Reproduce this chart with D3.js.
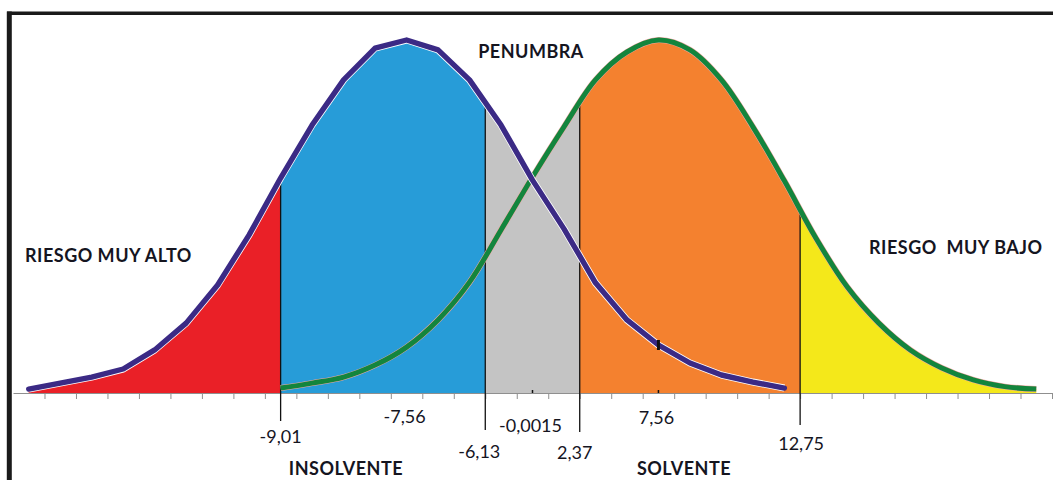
<!DOCTYPE html>
<html>
<head>
<meta charset="utf-8">
<title></title>
<style>
  body { margin: 0; background: #fff; }
  text { font-family: Lato, "Open Sans", sans-serif; fill: #15151f; }
</style>
</head>
<body>
<svg id="chart" width="1053" height="480"></svg>
<script src="https://cdn.jsdelivr.net/npm/d3@7/dist/d3.min.js"></script>
<script>
// curve heights (peak = 100), one value per category
const insolvente = [1.1, 2.8, 4.5, 6.8, 12.2, 19.8, 30.6, 44.8, 60.9, 75.9, 88.7, 97.7, 100,
                    97.2, 88.7, 75.9, 60.3, 46.5, 31.2, 20.7, 13.6, 8.5, 5.1, 3.1, 1.4]
const solvente = [1.4, 2.8, 4.5, 7.9, 13.0, 20.7, 31.4, 46.2, 61.2, 75.4, 88.7, 96.6, 100,
                  97.2, 88.7, 75.4, 60.1, 43.9, 30.0, 19.8, 12.2, 7.1, 3.7, 1.8, 1.1]
const insolventeStart = 0   // first category of each curve
const solventeStart = 8
const nCats = 33

// cut points (category position) and their labels
const cuts = [8, 14.5, 17.5, 24.5]
const cutLabels = ["-9,01", "-6,13", "2,37", "12,75"]
// means
const means = [12, 16, 20]
const meanLabels = ["-7,56", "-0,0015", "7,56"]
// zones between cuts
const zoneColors = ["#ea2027", "#279cd8", "#c4c4c4", "#f4812f", "#f4e81a"]

const svg = d3.select("#chart")
const x = d3.scaleLinear().domain([-0.5, nCats - 0.5]).range([13, 1052])
const y = d3.scaleLinear().domain([0, 100]).range([393, 40])

const blue = insolvente.map((v, i) => ({ i: i + insolventeStart, v }))
const green = solvente.map((v, i) => ({ i: i + solventeStart, v }))

const areaBlue = d3.area().x(d => x(d.i)).y0(y(0)).y1(d => y(d.v)).curve(d3.curveLinear)
const areaGreen = d3.area().x(d => x(d.i)).y0(y(0)).y1(d => y(d.v)).curve(d3.curveCatmullRom)
const lineBlue = d3.line().x(d => x(d.i)).y(d => y(d.v)).curve(d3.curveLinear)
const lineGreen = d3.line().x(d => x(d.i)).y(d => y(d.v)).curve(d3.curveCatmullRom)

const defs = svg.append("defs")
const edges = [x.domain()[0]].concat(cuts, [x.domain()[1]])

// which curve fills each zone
const zoneCurves = [["b"], ["b"], ["b", "g"], ["g"], ["g"]]

zoneColors.forEach((c, z) => {
  defs.append("clipPath").attr("id", "zone" + z)
    .append("rect")
    .attr("x", x(edges[z])).attr("y", 0)
    .attr("width", x(edges[z + 1]) - x(edges[z])).attr("height", y(0))
  let g = svg.append("g").attr("clip-path", `url(#zone${z})`)
  zoneCurves[z].forEach(k => {
    g.append("path")
      .attr("d", k == "b" ? areaBlue(blue) : areaGreen(green))
      .attr("fill", c)
  })
})

// axis
const axis = d3.axisBottom(x)
  .tickValues(d3.range(0.5, nCats, 1))
  .tickFormat("")
  .tickSizeInner(6)
  .tickSizeOuter(0)
const ax = svg.append("g").attr("transform", `translate(0,${y(0)})`).call(axis)
ax.select(".domain").attr("stroke", "#8f8f8f")
ax.selectAll(".tick line").attr("stroke", "#8f8f8f")

// small mean marks on the axis
svg.selectAll(".meanmark").data(means.slice(1)).enter()
  .append("line")
  .attr("x1", d => x(d)).attr("x2", d => x(d))
  .attr("y1", y(0) - 3).attr("y2", y(0))
  .attr("stroke", "#111").attr("stroke-width", 1.5)

// vertical cut lines: under the curves, then below the axis
const under = defs.append("clipPath").attr("id", "under")
under.append("path").attr("d", areaBlue(blue))
under.append("path").attr("d", areaGreen(green))
under.append("rect").attr("x", 0).attr("y", y(0)).attr("width", 1053).attr("height", 100)

const lineDrop = [28, 37, 39, 32]
svg.append("g").attr("clip-path", "url(#under)")
  .selectAll("line").data(cuts).enter()
  .append("line")
  .attr("x1", d => x(d)).attr("x2", d => x(d))
  .attr("y1", 0).attr("y2", (d, i) => y(0) + lineDrop[i])
  .attr("stroke", "#111").attr("stroke-width", 1.3)

// curves
svg.append("path").attr("d", lineGreen(green))
  .attr("fill", "none").attr("stroke", "#f2a6a2").attr("stroke-width", 6)
svg.append("path").attr("d", lineGreen(green))
  .attr("fill", "none").attr("stroke", "#13853d").attr("stroke-width", 5)
svg.append("path").attr("d", lineBlue(blue))
  .attr("fill", "none").attr("stroke", "#ffffff").attr("stroke-width", 7)
  .attr("stroke-linejoin", "round")
svg.append("path").attr("d", lineBlue(blue))
  .attr("fill", "none").attr("stroke", "#3b2a85").attr("stroke-width", 5.4)
  .attr("stroke-linejoin", "round").attr("stroke-linecap", "round")

// little black mark on the blue curve at the solvent mean
svg.append("rect")
  .attr("x", x(20) - 1.5).attr("y", y(insolvente[20 - insolventeStart]) - 5)
  .attr("width", 3).attr("height", 10).attr("fill", "#111")

// value labels
const meanY = [423, 432, 424]
svg.selectAll(".mean").data(meanLabels).enter()
  .append("text")
  .attr("x", (d, i) => x(means[i]) - 2)
  .attr("y", (d, i) => meanY[i])
  .attr("text-anchor", "middle")
  .style("font-size", "18px")
  .text(d => d)

const cutY = [443, 458, 459, 450]
const cutDx = [0, -6, -5, 1]
svg.selectAll(".cut").data(cutLabels).enter()
  .append("text")
  .attr("x", (d, i) => x(cuts[i]) + cutDx[i])
  .attr("y", (d, i) => cutY[i])
  .attr("text-anchor", "middle")
  .style("font-size", "18px")
  .text(d => d)

// zone names
const names = [
  { t: "RIESGO MUY ALTO", x: 25, y: 262, a: "start" },
  { t: "PENUMBRA", x: 531, y: 58, a: "middle" },
  { t: "RIESGO\u00a0\u00a0MUY BAJO", x: 869, y: 254, a: "start" },
  { t: "INSOLVENTE", x: 346, y: 475, a: "middle" },
  { t: "SOLVENTE", x: 684, y: 475, a: "middle" }
]
svg.selectAll(".name").data(names).enter()
  .append("text")
  .attr("x", d => d.x).attr("y", d => d.y)
  .attr("text-anchor", d => d.a)
  .style("font-size", "18px").style("font-weight", "bold")
  .style("letter-spacing", "0.5px")
  .text(d => d.t)

// frame
svg.append("line").attr("x1", 9.3).attr("x2", 9.3).attr("y1", 11.5).attr("y2", 480)
  .attr("stroke", "#1a1a1a").attr("stroke-width", 5)
svg.append("line").attr("x1", 7).attr("x2", 1053).attr("y1", 13.3).attr("y2", 13.3)
  .attr("stroke", "#1a1a1a").attr("stroke-width", 3.5)
</script>
</body>
</html>
